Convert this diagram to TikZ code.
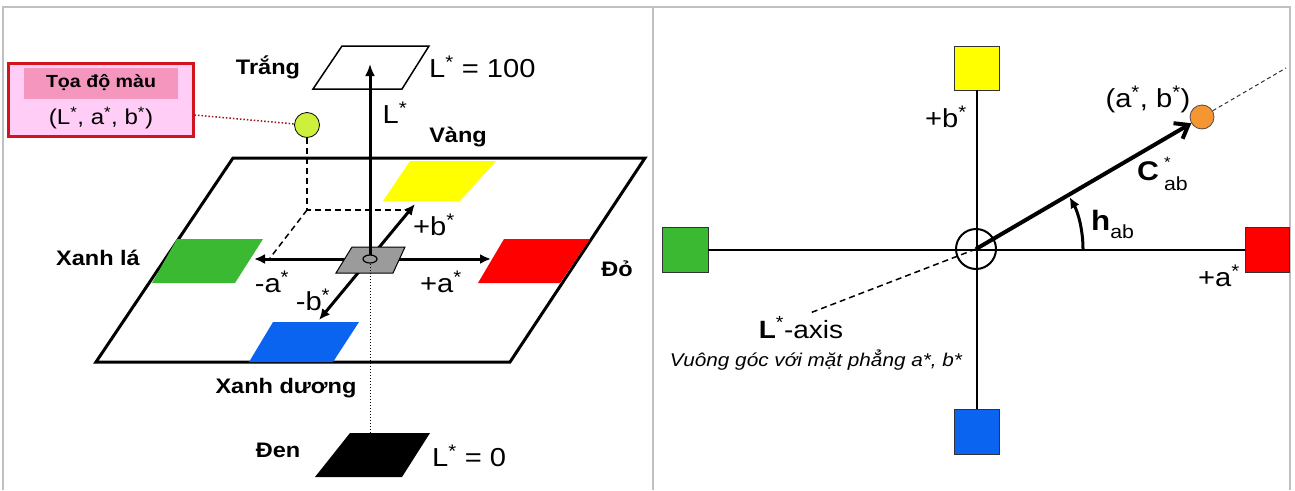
\documentclass[tikz,border=0pt]{standalone}
\usepackage{fontspec}
\setmainfont{Liberation Sans}[FakeStretch=1.12]
\usetikzlibrary{arrows.meta,calc}

\newcommand\fs[1]{\fontsize{#1}{#1}\selectfont}
\newcommand\sstar{\textsuperscript{*}}

\definecolor{framegray}{RGB}{192,192,192}
\definecolor{patchyellow}{RGB}{255,255,0}
\definecolor{patchgreen}{RGB}{60,185,50}
\definecolor{patchred}{RGB}{255,0,0}
\definecolor{patchblue}{RGB}{10,100,240}
\definecolor{origingray}{RGB}{155,155,155}
\definecolor{dotgreen}{RGB}{205,240,60}
\definecolor{dotorange}{RGB}{245,150,50}
\definecolor{boxred}{RGB}{210,20,30}
\definecolor{boxpink}{RGB}{255,205,245}
\definecolor{headpink}{RGB}{245,150,190}
\definecolor{leaderred}{RGB}{150,20,30}

\tikzset{
  frameline/.style={draw=framegray, line width=2pt},
  lbl/.style={font=\fs{26}, inner sep=0pt},
  blbl/.style={font=\fs{21}\bfseries, inner sep=0pt},
  axisarrow/.style={line width=3pt, {Latex[length=11pt,width=10pt]}-{Latex[length=11pt,width=10pt]}},
  square/.style={draw=black!80, line width=0.8pt},
  thinaxis/.style={line width=2pt},
}

\begin{document}
\begin{tikzpicture}[x=1pt,y=-1pt,line join=miter]
\useasboundingbox (0,0) rectangle (1295,490);

% ---------- panel frame ----------
\draw[frameline] (3,490) -- (3,7) -- (1290,7) -- (1290,490);
\draw[frameline] (653,7) -- (653,490);

% ================= left panel: 3-D CIELAB sketch =================
% a*-b* plane
\coordinate (P1) at (96,362);  \coordinate (P2) at (510,362);
\coordinate (P3) at (645,158); \coordinate (P4) at (233,158);
\draw[line width=3pt] (P1) -- (P2) -- (P3) -- (P4) -- cycle;

% colour patches on the plane
\fill[patchyellow] (383,201) -- (460,201) -- (496,161) -- (410,161) -- cycle;
\fill[patchgreen]  (152,283) -- (235,283) -- (263,239) -- (177,239) -- cycle;
\fill[patchred]    (478,283) -- (560,283) -- (590,239) -- (504,239) -- cycle;
\fill[patchblue]   (249,362) -- (333,362) -- (359,322) -- (273,322) -- cycle;

% white and black ends of the L* axis
\draw[line width=1.5pt] (313,89) -- (402,89) -- (429,46) -- (342,46) -- cycle;
\fill[black] (315,477) -- (402,477) -- (430,433) -- (350,433) -- cycle;

% sample point and its projections
\coordinate (S)  at (307,125);
\coordinate (Sp) at (307,210);
\coordinate (Sb) at (412,210);
\coordinate (Sa) at (270,258);
\draw[line width=1.5pt, dash pattern=on 6pt off 4pt] (307,138) -- (Sp) -- (Sb);
\draw[line width=1.5pt, dash pattern=on 6pt off 4pt] (Sp) -- (Sa);

% a* and b* axes
\coordinate (O) at (370,259);
\coordinate (Aminus) at (254,259); \coordinate (Aplus) at (491,259);
\coordinate (Bminus) at (319,320); \coordinate (Bplus) at (415,204);
\draw[axisarrow] (Aminus) -- (Aplus);
\draw[axisarrow] (Bminus) -- (Bplus);

% neutral origin patch
\draw[fill=origingray, line width=1pt] (336,273) -- (393,273) -- (405,247) -- (352,247) -- cycle;
\draw[line width=1.2pt] (O) ellipse[x radius=7, y radius=4];

% L* axis
\coordinate (Ltop) at (370,64);
\coordinate (Lbot) at (370,433);
\draw[line width=3pt, -{Latex[length=12pt,width=10pt]}] (370,255) -- (Ltop);
\draw[line width=1pt, dotted] (370,264) -- (Lbot);

% sample point
\draw[fill=dotgreen, line width=0.8pt] (S) circle[radius=12.5];

% callout box
\node[draw=boxred, line width=3pt, fill=boxpink, minimum width=185pt, minimum height=73pt, inner sep=0pt] (box) at (100.5,99.5) {};
\fill[headpink] (24,68) rectangle (178,99);
\node[font=\fs{17.5}\bfseries, inner sep=0pt] (boxhead) at (101,83) {Tọa độ màu};
\node[font=\fs{21.5}, inner sep=0pt] (boxbody) at (101,118) {(L\sstar, a\sstar, b\sstar)};
\draw[leaderred, line width=1.5pt, dotted] (box.east |- 0,115) -- ($(S)+(-12,-1)$);

% labels
\node[blbl] (tWhite) at (268,67) {Trắng};
\node[lbl, anchor=west] (tL100) at (429,67) {L\sstar\ = 100};
\node[lbl] (tL) at (395,113) {L\sstar};
\node[blbl] (tYellow) at (458,137) {Vàng};
\node[lbl] (tbp) at (434,225) {+b\sstar};
\node[lbl] (tam) at (272,282) {-a\sstar};
\node[lbl] (tap) at (441,282) {+a\sstar};
\node[lbl] (tbm) at (313,300) {-b\sstar};
\node[blbl] (tGreen) at (98,258) {Xanh lá};
\node[blbl] (tRed) at (617,269) {Đỏ};
\node[blbl] (tBlue) at (286,388) {Xanh dương};
\node[blbl] (tBlack) at (278,450) {Đen};
\node[lbl, anchor=west] (tL0) at (432,456) {L\sstar\ = 0};

% ================= right panel: a*-b* plane seen from above =================
\coordinate (OR) at (976,249);
\node[square, fill=patchyellow, minimum width=45pt, minimum height=44pt, inner sep=0pt] (sqY) at (976.5,68) {};
\node[square, fill=patchblue,   minimum width=45pt, minimum height=45pt, inner sep=0pt] (sqB) at (976.5,431.5) {};
\node[square, fill=patchgreen,  minimum width=46pt, minimum height=45pt, inner sep=0pt] (sqG) at (685,249.5) {};
\node[square, fill=patchred,    minimum width=44pt, minimum height=45pt, inner sep=0pt] (sqR) at (1267,249.5) {};

\draw[thinaxis] (sqY.south) -- (sqB.north);
\draw[thinaxis] (sqG.east) -- (sqR.west);
\draw[line width=2pt] (OR) circle[radius=20];

% L* axis seen end-on
\coordinate (Lend) at (810,313);
\draw[line width=1.5pt, dash pattern=on 6pt off 4pt] (OR) -- (Lend);

% chroma vector and hue angle
\node[draw=black!70, fill=dotorange, circle, minimum size=24pt, inner sep=0pt, line width=0.8pt] (ab) at (1202,117) {};
\coordinate (Cext) at (1286,68);
\draw[line width=1pt, dash pattern=on 4pt off 3pt, black!80] (ab) -- (Cext);
\draw[line width=4pt, -{Straight Barb[length=12pt,width=18pt]}] (OR) -- (ab);
\draw[line width=3pt, -{Latex[length=11pt,width=10pt]}] ($(OR)+(107,0)$) arc[start angle=0, end angle=-29, radius=107];

% labels
\node[lbl] (rbp) at (946,117) {+b\sstar};
\node[lbl] (rab) at (1148,99) {(a\sstar, b\sstar)};
\node[anchor=base west, inner sep=0pt] (rC) at (1137,180)
  {\fs{27}\bfseries C\hspace{5pt}\rlap{\raisebox{13pt}{\fs{15}\mdseries *}}\raisebox{-10pt}{\fs{19}\mdseries ab}};
\node[anchor=base west, inner sep=0pt] (rh) at (1091,230)
  {\fs{28}\bfseries h\raisebox{-8pt}{\fs{19}\mdseries ab}};
\node[lbl] (rap) at (1219,276) {+a\sstar};
\node[anchor=base, inner sep=0pt] (rLaxis) at (801,338) {\fs{25}\textbf{L}\sstar-axis};
\node[anchor=base, inner sep=0pt] (rnote) at (816,366) {\fs{18.5}\itshape Vuông góc với mặt phẳng a*, b*};
\end{tikzpicture}
\end{document}
